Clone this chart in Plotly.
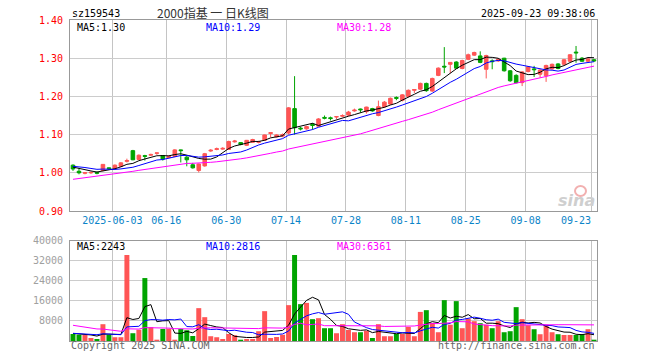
import plotly.graph_objects as go
import pandas as pd

# ---------------- data ----------------
dates = [
    "2025-05-22", "2025-05-23", "2025-05-26", "2025-05-27", "2025-05-28", "2025-05-29", "2025-05-30",
    "2025-06-03", "2025-06-04", "2025-06-05", "2025-06-06", "2025-06-09", "2025-06-10", "2025-06-11",
    "2025-06-12", "2025-06-13", "2025-06-16", "2025-06-17", "2025-06-18", "2025-06-19", "2025-06-20",
    "2025-06-23", "2025-06-24", "2025-06-25", "2025-06-26", "2025-06-27", "2025-06-30",
    "2025-07-01", "2025-07-02", "2025-07-03", "2025-07-04", "2025-07-07", "2025-07-08", "2025-07-09",
    "2025-07-10", "2025-07-11", "2025-07-14", "2025-07-15", "2025-07-16", "2025-07-17", "2025-07-18",
    "2025-07-21", "2025-07-22", "2025-07-23", "2025-07-24", "2025-07-25", "2025-07-28", "2025-07-29",
    "2025-07-30", "2025-07-31",
    "2025-08-01", "2025-08-04", "2025-08-05", "2025-08-06", "2025-08-07", "2025-08-08", "2025-08-11",
    "2025-08-12", "2025-08-13", "2025-08-14", "2025-08-15", "2025-08-18", "2025-08-19", "2025-08-20",
    "2025-08-21", "2025-08-22", "2025-08-25", "2025-08-26", "2025-08-27", "2025-08-28", "2025-08-29",
    "2025-09-01", "2025-09-02", "2025-09-03", "2025-09-04", "2025-09-05", "2025-09-08", "2025-09-09",
    "2025-09-10", "2025-09-11", "2025-09-12", "2025-09-15", "2025-09-16", "2025-09-17", "2025-09-18",
    "2025-09-19", "2025-09-22", "2025-09-23",
]

opens = [
    1.020, 1.004, 0.999, 1.000, 1.001, 1.006, 1.013, 1.011, 1.017, 1.030,
    1.058, 1.035, 1.045, 1.046, 1.051, 1.045, 1.040, 1.043, 1.060, 1.041,
    1.021, 1.006, 1.018, 1.057, 1.061, 1.062, 1.061, 1.081, 1.079, 1.072,
    1.080, 1.080, 1.085, 1.103, 1.094, 1.096, 1.104, 1.168, 1.117, 1.115,
    1.127, 1.122, 1.145, 1.144, 1.146, 1.148, 1.151, 1.162, 1.167, 1.160,
    1.168, 1.150, 1.173, 1.180, 1.197, 1.190, 1.200, 1.216, 1.219, 1.234,
    1.214, 1.255, 1.279, 1.284, 1.290, 1.273, 1.297, 1.308, 1.306, 1.271,
    1.293, 1.293, 1.300, 1.267, 1.255, 1.236, 1.265, 1.272, 1.258, 1.254,
    1.272, 1.285, 1.284, 1.292, 1.316, 1.300, 1.292, 1.296,
]
highs = [
    1.022, 1.012, 1.002, 1.003, 1.003, 1.023, 1.014, 1.022, 1.028, 1.037,
    1.060, 1.048, 1.047, 1.050, 1.053, 1.046, 1.045, 1.062, 1.061, 1.045,
    1.026, 1.024, 1.052, 1.062, 1.066, 1.067, 1.084, 1.086, 1.080, 1.086,
    1.089, 1.084, 1.100, 1.105, 1.101, 1.103, 1.172, 1.253, 1.120, 1.123,
    1.130, 1.143, 1.150, 1.147, 1.148, 1.153, 1.162, 1.168, 1.168, 1.173,
    1.170, 1.189, 1.188, 1.197, 1.200, 1.206, 1.218, 1.218, 1.236, 1.236,
    1.249, 1.276, 1.329, 1.290, 1.292, 1.296, 1.312, 1.317, 1.318, 1.309,
    1.297, 1.300, 1.301, 1.269, 1.258, 1.266, 1.279, 1.280, 1.271, 1.283,
    1.286, 1.287, 1.298, 1.311, 1.332, 1.303, 1.300, 1.298,
]
lows = [
    1.005, 0.996, 0.996, 0.997, 0.996, 1.004, 1.008, 1.009, 1.015, 1.027,
    1.033, 1.033, 1.032, 1.044, 1.047, 1.032, 1.038, 1.041, 1.027, 1.017,
    1.011, 1.001, 1.016, 1.055, 1.059, 1.060, 1.060, 1.079, 1.072, 1.070,
    1.078, 1.077, 1.084, 1.093, 1.092, 1.093, 1.100, 1.100, 1.111, 1.113,
    1.113, 1.120, 1.140, 1.137, 1.141, 1.146, 1.148, 1.160, 1.158, 1.155,
    1.160, 1.148, 1.170, 1.178, 1.190, 1.187, 1.198, 1.209, 1.217, 1.212,
    1.212, 1.253, 1.261, 1.261, 1.272, 1.271, 1.295, 1.306, 1.287, 1.247,
    1.271, 1.290, 1.265, 1.238, 1.234, 1.227, 1.263, 1.251, 1.249, 1.238,
    1.270, 1.271, 1.282, 1.290, 1.288, 1.290, 1.290, 1.290,
]
closes = [
    1.010, 1.000, 1.000, 1.001, 0.999, 1.022, 1.011, 1.020, 1.026, 1.032,
    1.034, 1.046, 1.043, 1.048, 1.052, 1.036, 1.043, 1.060, 1.058, 1.034,
    1.013, 1.023, 1.050, 1.059, 1.063, 1.064, 1.082, 1.083, 1.074, 1.085,
    1.087, 1.081, 1.099, 1.105, 1.099, 1.100, 1.170, 1.118, 1.115, 1.121,
    1.124, 1.141, 1.143, 1.142, 1.147, 1.150, 1.159, 1.164, 1.165, 1.172,
    1.162, 1.173, 1.185, 1.195, 1.195, 1.204, 1.216, 1.218, 1.234, 1.215,
    1.247, 1.274, 1.277, 1.289, 1.274, 1.294, 1.309, 1.315, 1.289, 1.307,
    1.291, 1.297, 1.267, 1.241, 1.236, 1.264, 1.277, 1.270, 1.269, 1.281,
    1.284, 1.273, 1.296, 1.309, 1.314, 1.292, 1.298, 1.293,
]
volumes = [
    2800, 2500, 2500, 1200, 800, 6700, 2500, 1500, 1500, 34300,
    3100, 4500, 25100, 5500, 300, 4800, 4900, 300, 4800, 4300,
    2000, 13100, 9500, 1900, 1500, 800, 2800, 2300, 300, 800,
    800, 3900, 11900, 1200, 1600, 2500, 14300, 34300, 14700, 15200,
    8700, 9100, 5100, 5100, 3100, 6700, 4400, 3500, 3500, 4100,
    1200, 6700, 1900, 1900, 2800, 2800, 5600, 1900, 11600, 12300,
    7200, 3500, 16300, 6500, 15900, 5100, 8900, 7900, 7100, 6500,
    5100, 7900, 3500, 3900, 13500, 8700, 6300, 4700, 2700, 6500,
    3500, 2700, 2400, 2400, 2400, 2700, 4700, 300,
]
# history before the window (estimated from where the MA lines start)
prev_closes = [
    0.940, 0.942, 0.945, 0.948, 0.950, 0.950, 0.954,
    0.960, 0.963, 0.966, 0.968, 0.970, 0.972, 0.975, 0.977, 0.979, 0.980,
    0.985, 0.995, 1.000,
    1.012, 1.020, 1.025, 1.022, 1.016,
    1.018, 1.022, 1.012, 1.013,
]
prev_volumes = [
    14000, 9000, 16000, 12000, 8000, 13000, 9500, 9240,
    4700, 6200, 5000, 7500, 5200, 4800, 6000, 5500, 6800, 4900, 5600, 4460,
    3500, 2800, 3200, 3000, 3000,
    3000, 3300, 2900, 3100,
]

tick_dates = ["2025-06-03", "2025-06-16", "2025-06-30", "2025-07-14", "2025-07-28",
              "2025-08-11", "2025-08-25", "2025-09-08", "2025-09-23"]
tick_labels = ["2025-06-03", "06-16", "06-30", "07-14", "07-28",
               "08-11", "08-25", "09-08", "09-23"]
price_ticks = [0.90, 1.00, 1.10, 1.20, 1.30, 1.40]
vol_ticks = [8000, 16000, 24000, 32000, 40000]
ma_periods = [5, 10, 30]
price_ma_text = ["1.30", "1.29", "1.28"]
vol_ma_text = ["2243", "2816", "6361"]
code_text = "sz159543"
title_text = "2000指基 一 日K线图"
time_text = "2025-09-23 09:38:06"
copyright_text = "Copyright 2025 SINA.COM"
url_text = "http://finance.sina.com.cn"

# ---------------- derived ----------------
n = len(dates)
xs = list(range(n))
cl_all = pd.Series(prev_closes + closes)
vo_all = pd.Series(prev_volumes + volumes)
price_ma = [cl_all.rolling(p).mean().tolist()[-n:] for p in ma_periods]
vol_ma = [vo_all.rolling(p).mean().tolist()[-n:] for p in ma_periods]

RED = "#ff5555"
GREEN = "#00a400"
MA_COLORS = ["#000000", "#0000ff", "#ff00ff"]
MONO = "DejaVu Sans Mono"
XLAB = "#0a84c8"
bar_colors = [RED if c >= o else GREEN for o, c in zip(opens, closes)]
tick_pos = [dates.index(d) - 0.42 for d in tick_dates]
tick_text_axis = tick_labels[:-1] + [""]

VGRID = "#c4c4c4"
HGRID = "#cccccc"
FRAME = "#999999"

fig = go.Figure()
fig.add_trace(go.Candlestick(
    x=xs, open=opens, high=highs, low=lows, close=closes,
    increasing=dict(line=dict(color=RED, width=1), fillcolor=RED),
    decreasing=dict(line=dict(color=GREEN, width=1), fillcolor=GREEN),
    whiskerwidth=0, xaxis="x", yaxis="y", hoverinfo="skip",
))
for ma, col in zip(price_ma, MA_COLORS):
    fig.add_trace(go.Scatter(x=xs, y=ma, mode="lines", line=dict(color=col, width=1),
                             xaxis="x", yaxis="y", hoverinfo="skip"))
fig.add_trace(go.Bar(x=xs, y=volumes, marker=dict(color=bar_colors, line=dict(width=0)),
                     xaxis="x2", yaxis="y2", hoverinfo="skip"))
for ma, col in zip(vol_ma, MA_COLORS):
    fig.add_trace(go.Scatter(x=xs, y=ma, mode="lines", line=dict(color=col, width=1),
                             xaxis="x2", yaxis="y2", hoverinfo="skip"))

xcommon = dict(range=[-0.5, n - 0.5], tickmode="array", tickvals=tick_pos, ticktext=tick_text_axis,
               showgrid=True, gridcolor=VGRID, gridwidth=1,
               showline=True, mirror=True, linecolor=FRAME, linewidth=1,
               zeroline=False, ticks="", fixedrange=True)
fig.update_layout(
    width=660, height=360,
    margin=dict(l=70, r=63, t=20, b=19),
    paper_bgcolor="white", plot_bgcolor="white",
    showlegend=False, bargap=0.17, boxgap=0.15,
    xaxis=dict(**xcommon, domain=[0, 1], anchor="y", rangeslider=dict(visible=False),
               tickfont=dict(family=MONO, size=10, color=XLAB)),
    xaxis2=dict(**xcommon, domain=[0, 1], anchor="y2", showticklabels=False),
    yaxis=dict(domain=[0.405, 1], range=[0.90, 1.40], tickmode="array", tickvals=price_ticks,
               ticktext=[f"{v:.2f}" for v in price_ticks],
               tickfont=dict(family=MONO, size=10, color="#ff0000"),
               showgrid=True, gridcolor=HGRID, gridwidth=1,
               showline=True, mirror=True, linecolor=FRAME, linewidth=1,
               zeroline=False, ticks="", ticklabelstandoff=4, fixedrange=True),
    yaxis2=dict(domain=[0, 0.3125], range=[0, 40000], tickmode="array", tickvals=vol_ticks,
                ticktext=[str(v) for v in vol_ticks],
                tickfont=dict(family=MONO, size=10, color="#a0a0a0"),
                showgrid=True, gridcolor=HGRID, gridwidth=1,
                showline=True, mirror=True, linecolor=FRAME, linewidth=1,
                zeroline=False, ticks="", ticklabelstandoff=4, fixedrange=True),
)

W, T, H = 527.0, 20.0, 321.0
def px(x):
    return (x - 70) / W
def py(y):
    return (T + H - y) / H

def label(text, x, y, color, size=10, family=MONO, anchor="left", **font_extra):
    fig.add_annotation(text=text, x=px(x), y=py(y), xref="paper", yref="paper",
                       xanchor=anchor, yanchor="middle", showarrow=False,
                       font=dict(family=family, size=size, color=color, **font_extra))

label(code_text, 70, 13, "#000000")
label(title_text, 213, 12, "#333333", size=12, family="Noto Sans CJK SC", anchor="center")
label(time_text, 597, 13, "#000000", anchor="right")
for i, (p, col) in enumerate(zip(ma_periods, MA_COLORS)):
    xpos = [75, 204.5, 334.5][i]
    label(f"MA{p}:{price_ma_text[i]}", xpos, 27, col)
    label(f"MA{p}:{vol_ma_text[i]}", xpos, 246, col)
fig.add_annotation(text=tick_labels[-1], x=tick_pos[-1] + 0.3, y=0.90, xref="x", yref="y",
                   xanchor="right", yanchor="top", yshift=-2, showarrow=False,
                   font=dict(family=MONO, size=10, color=XLAB))
label(copyright_text, 69, 346, "#666666")
label(url_text, 597, 346, "#666666", anchor="right")
fig.add_shape(type="circle", xref="paper", yref="paper",
              x0=px(575), x1=px(586), y0=py(196), y1=py(186),
              line=dict(color="#f2b0b0", width=2))
label("sina", 597, 200, "#cfcfcf", size=16, family="DejaVu Sans", anchor="right",
      style="italic", weight="bold")

fig.write_html("out.html")
